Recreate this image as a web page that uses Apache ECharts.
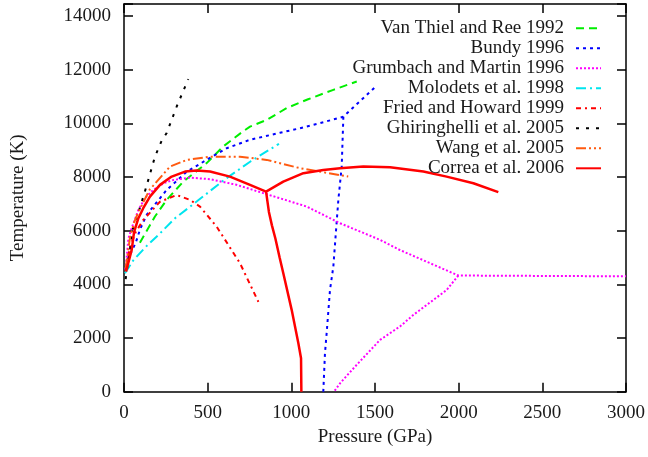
<!DOCTYPE html>
<html>
<head>
<meta charset="utf-8">
<script src="https://cdn.jsdelivr.net/npm/echarts@6/dist/echarts.min.js"></script>
<style>html,body{margin:0;padding:0;background:#fff}#c{width:648px;height:457px}</style>
</head>
<body>
<div id="c"></div>
<script>
var seriesNames = ['Van Thiel and Ree 1992','Bundy 1996','Grumbach and Martin 1996','Molodets et al. 1998','Fried and Howard 1999','Ghiringhelli et al. 2005','Wang et al. 2005','Correa et al. 2006'];
var xTicks = [0,500,1000,1500,2000,2500,3000];
var yTicks = [0,2000,4000,6000,8000,10000,12000,14000];

var vanThiel = [[95,5550],[185,6530],[255,7150],[354,7830],[494,8520],[593,9140],[700,9650],[753,9880],[853,10130],[972,10570],[1100,10900],[1251,11250],[1391,11560]];
var bundyMain = [[20,4900],[70,5550],[96,6050],[136,6600],[175,6900],[255,7520],[375,8200],[494,8640],[614,9076],[753,9390],[932,9650],[1052,9820],[1171,10010],[1311,10250],[1500,11350]];
var bundyBranch = [[1311,10250],[1301,8390],[1281,7150],[1271,6330],[1251,4660],[1231,3790],[1211,2180],[1201,1430],[1191,0]];
var grumbachUpper = [[8,4550],[16,5000],[26,5700],[46,6100],[86,6780],[130,7250],[175,7520],[240,7780],[295,7890],[394,7980],[514,7920],[673,7710],[833,7400],[1092,6900],[1291,6280],[1530,5660],[1649,5280],[1998,4330],[3000,4300]];
var grumbachLower = [[1998,4330],[1928,3790],[1729,2860],[1649,2430],[1530,1930],[1380,930],[1291,313],[1255,0]];
var molodets = [[6,4415],[56,4900],[130,5400],[215,5900],[305,6466],[434,7086],[600,7900],[760,8600],[926,9237]];
var fried = [[10,4500],[36,5400],[70,5950],[115,6400],[215,7080],[315,7330],[394,7150],[454,6900],[554,6150],[693,4790],[803,3350]];
var ghiringhelli = [[10,4200],[16,4480],[56,6180],[91,6780],[122,7400],[151,8020],[185,8760],[225,9350],[255,9640],[315,10630],[384,11650]];
var wang = [[10,4600],[36,5750],[60,6300],[86,6700],[155,7550],[175,7680],[275,8390],[375,8640],[514,8760],[693,8760],[853,8640],[1052,8330],[1340,8020]];
var correaLeft = [[12,4475],[46,5284],[60,5950],[86,6466],[115,6839],[155,7272],[215,7708],[285,8017],[365,8204],[434,8241],[514,8204],[633,8017],[753,7708],[849,7458]];
var correaRight = [[849,7458],[952,7831],[1072,8144],[1191,8267],[1291,8331],[1430,8390],[1590,8367],[1789,8204],[1928,8017],[2088,7771],[2237,7436]];
var correaDown = [[849,7458],[866,6700],[884,6200],[905,5700],[930,5000],[952,4415],[1002,3050],[1042,1805],[1058,1245],[1060,0]];

function join() {
  var out = [];
  for (var i = 0; i < arguments.length; i++) {
    if (i > 0) out.push([null, null]);
    out = out.concat(arguments[i]);
  }
  return out;
}

var FONT = 'Liberation Serif';
var TXT = '#1a1a1a';

function mk(name, data, color, type, width) {
  return {
    name: name, type: 'line', data: data, symbol: 'none', connectNulls: false,
    lineStyle: { color: color, width: width || 2, type: type, cap: 'butt' },
    itemStyle: { color: color }, emphasis: { disabled: true }, animation: false, z: 3
  };
}

var series = [
  mk(seriesNames[0], vanThiel, '#00ee00', [8,5]),
  mk(seriesNames[1], join(bundyMain, bundyBranch), '#0000ff', [3,4]),
  mk(seriesNames[2], join(grumbachUpper, grumbachLower), '#ff00ff', [2,2]),
  mk(seriesNames[3], molodets, '#00e5ee', [10,4,2,4]),
  mk(seriesNames[4], fried, '#ff0000', [5,4,2,4]),
  mk(seriesNames[5], ghiringhelli, '#000000', [3,7]),
  mk(seriesNames[6], wang, '#ff5a10', [10,3,2,3,2,3]),
  mk(seriesNames[7], join(correaLeft, correaRight, correaDown), '#ff0000', 'solid', 2.5)
];

var axisLine = { show: true, onZero: false, lineStyle: { color: '#000', width: 1.5 } };
var tick = { show: true, inside: true, length: 9, lineStyle: { color: '#000', width: 1.5 } };
function plain(v) { return String(v); }

var chart = echarts.init(document.getElementById('c'), null, { renderer: 'canvas' });
chart.setOption({
  animation: false,
  backgroundColor: '#fff',
  grid: { left: 124, right: 22, top: 4, bottom: 65.3, containLabel: false },
  legend: {
    orient: 'vertical', right: 41, top: 13.3, align: 'right',
    itemWidth: 25, itemHeight: 10, itemGap: 0,
    data: seriesNames,
    selectedMode: false,
    itemStyle: { color: 'rgba(0,0,0,0)', borderWidth: 0 },
    textStyle: { fontFamily: FONT, fontSize: 19, color: TXT, lineHeight: 20, padding: [0, 7, 0, 0] }
  },
  xAxis: [{
    type: 'value', min: xTicks[0], max: xTicks[xTicks.length - 1], interval: 500,
    name: 'Pressure (GPa)', nameLocation: 'middle', nameGap: 34,
    nameTextStyle: { fontFamily: FONT, fontSize: 19, color: TXT },
    axisLine: axisLine, axisTick: tick, splitLine: { show: false },
    axisLabel: { fontFamily: FONT, fontSize: 19, color: TXT, margin: 12, formatter: plain }
  }, {
    type: 'value', position: 'top', min: xTicks[0], max: xTicks[xTicks.length - 1], interval: 500,
    axisLine: axisLine, axisTick: tick, splitLine: { show: false }, axisLabel: { show: false }
  }],
  yAxis: [{
    type: 'value', min: yTicks[0], max: 14450, interval: 2000,
    name: 'Temperature (K)', nameLocation: 'middle', nameGap: 96,
    nameTextStyle: { fontFamily: FONT, fontSize: 19, color: TXT },
    axisLine: axisLine, axisTick: tick, splitLine: { show: false },
    axisLabel: { fontFamily: FONT, fontSize: 19, color: TXT, margin: 13,
      formatter: function (v) { return yTicks.indexOf(v) >= 0 ? String(v) : ''; } }
  }, {
    type: 'value', position: 'right', min: yTicks[0], max: 14450, interval: 2000,
    axisLine: axisLine, axisTick: tick, splitLine: { show: false }, axisLabel: { show: false }
  }],
  series: series
});
</script>
</body>
</html>
